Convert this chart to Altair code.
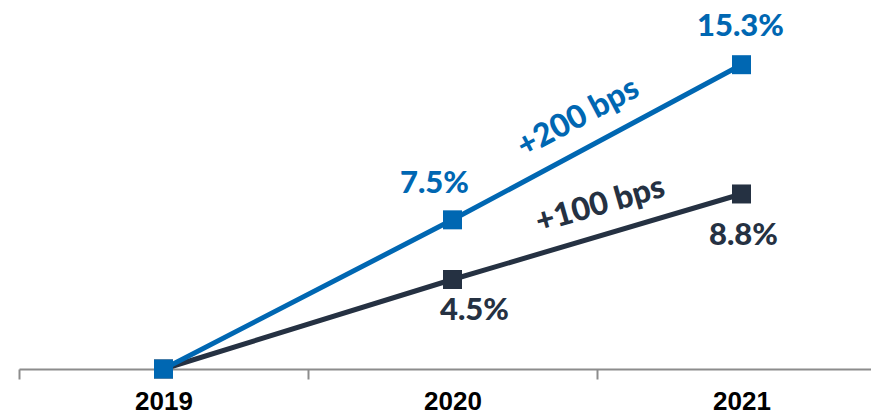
import altair as alt
import pandas as pd

# ---- data -------------------------------------------------------------
years = ["2019", "2020", "2021"]
series_names = ["high", "low"]
high_values = [0.0, 7.5, 15.3]
low_values = [0.0, 4.5, 8.8]
bps_labels = ["+200 bps", "+100 bps"]

BLUE = "#0067B2"
DARK = "#253142"
colors = {"high": BLUE, "low": DARK}

rows = []
for name, vals in zip(series_names, [high_values, low_values]):
    for yr, v in zip(years, vals):
        rows.append({"year": yr, "series": name, "value": v, "label": f"{v:.1f}%"})
df = pd.DataFrame(rows)

# slope annotations sit halfway along the 2020 -> 2021 segment
ann = pd.DataFrame({
    "series": series_names,
    "year": ["2020", "2020"],
    "value": [(high_values[1] + high_values[2]) / 2, (low_values[1] + low_values[2]) / 2],
    "text": bps_labels,
})

# ---- scales -------------------------------------------------------------
x_scale = alt.Scale(type="band", domain=years, range=[0, 867], paddingInner=0, paddingOuter=0)
y_scale = alt.Scale(domain=[0, 18], nice=False, zero=True)

x_axis = alt.Axis(
    title=None, labelAngle=0, grid=False, tickBand="extent",
    domainColor="#8C8C8C", domainWidth=2, tickColor="#8C8C8C", tickWidth=2, tickSize=10,
    labelFont="Liberation Sans", labelFontSize=26, labelFontWeight="bold",
    labelColor="#000000", labelBaseline="alphabetic", labelPadding=30,
)

TEXT_FONT = "Lato"
TEXT_SIZE = 31

base = alt.Chart(df).encode(
    x=alt.X("year:N", scale=x_scale, axis=x_axis, sort=years),
    y=alt.Y("value:Q", scale=y_scale, axis=None),
)

layers = []
for name in ["low", "high"]:
    sub = base.transform_filter(alt.datum.series == name)
    layers.append(sub.mark_line(color=colors[name], strokeWidth=5))
    layers.append(sub.mark_point(shape="square", filled=True, size=361, opacity=1, color=colors[name]))

# value labels (2019 start points are not labelled)
label_offsets = {
    ("high", "2020"): (-18, -36),
    ("high", "2021"): (-1, -38),
    ("low", "2020"): (22, 31),
    ("low", "2021"): (2, 42),
}
for (name, yr), (ddx, ddy) in label_offsets.items():
    layers.append(
        base.transform_filter((alt.datum.series == name) & (alt.datum.year == yr)).mark_text(
            font=TEXT_FONT, fontSize=TEXT_SIZE, fontWeight=900, color=colors[name],
            align="center", baseline="middle", dx=ddx, dy=ddy,
        ).encode(text="label:N")
    )

ann_style = {"high": (332, -5, -31), "low": (344, 12, -30)}
for name in series_names:
    ang, ddx, ddy = ann_style[name]
    layers.append(
        alt.Chart(ann).transform_filter(alt.datum.series == name).mark_text(
            font=TEXT_FONT, fontSize=TEXT_SIZE + 1, fontWeight=900, color=colors[name],
            align="center", baseline="middle", angle=ang, dx=ddx, dy=ddy,
        ).encode(
            x=alt.X("year:N", scale=x_scale, bandPosition=1),
            y=alt.Y("value:Q", scale=y_scale),
            text="text:N",
        )
    )

chart = alt.layer(*layers).properties(
    width=852, height=358,
    autosize=alt.AutoSizeParams(type="none"),
    padding={"left": 19, "top": 11, "right": 0, "bottom": 42},
).configure_view(stroke=None)

chart.save("out.html", embed_options={"renderer": "svg", "actions": False})
